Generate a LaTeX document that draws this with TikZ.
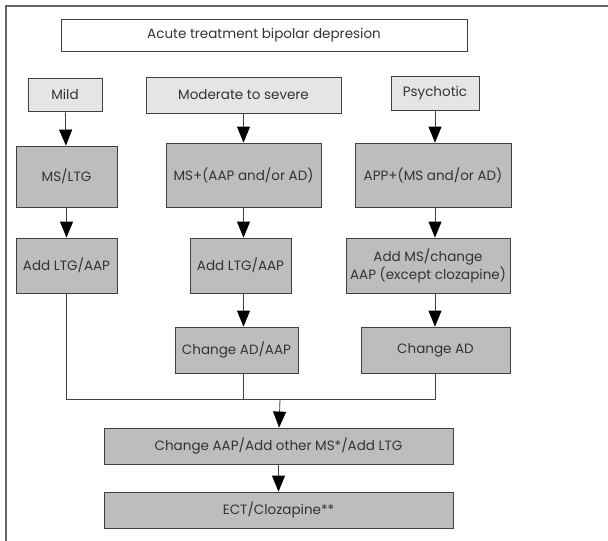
\documentclass[tikz,border=0pt]{standalone}
\usepackage{fontspec}
\setmainfont{Poppins}
\usetikzlibrary{arrows.meta}
\begin{document}
\begin{tikzpicture}
% Flow chart for acute treatment of bipolar depression
\def\unitsz{1pt}
\providecommand{\flowFrameColor}{black!60}
\providecommand{\flowLineColor}{black!75}
\providecommand{\flowLightFill}{black!10}
\providecommand{\flowDarkFill}{black!26}
\providecommand{\flowLineWidth}{0.8pt}
\tikzset{
  flowbox/.style={draw=\flowLineColor, line width=\flowLineWidth, inner sep=0pt,
    align=center, font=\fontsize{13.5}{18}\selectfont, text=black!80},
  levelbox/.style={flowbox, fill=\flowLightFill},
  stepbox/.style={flowbox, fill=\flowDarkFill},
  flowarrow/.style={draw=\flowLineColor, line width=\flowLineWidth,
    -{Triangle[width=13pt,length=16pt,color=black]}},
  flowline/.style={draw=\flowLineColor, line width=\flowLineWidth}
}
\begin{scope}[x=\unitsz, y=-\unitsz, line cap=butt, line join=miter]
  \useasboundingbox (0,0) rectangle (608,541);
  % Outer frame, only top and left edges are visible
  \draw[draw=\flowFrameColor, line width=1.5pt] (6,541) -- (6,6) -- (608,6);
  % Title
  \node[flowbox, fill=white, minimum width=406, minimum height=32] (title) at (264,35) {Acute treatment bipolar depresion};
  % Severity levels
  \node[levelbox, minimum width=74, minimum height=33] (mild) at (65,94.5) {Mild};
  \node[levelbox, minimum width=195, minimum height=36] (moderate) at (243.5,95) {Moderate to severe};
  \node[levelbox, minimum width=88, minimum height=34] (psychotic) at (435,93) {Psychotic};
  % First line
  \node[stepbox, minimum width=101, minimum height=61] (msltg) at (66.5,176.5) {MS/LTG};
  \node[stepbox, minimum width=155, minimum height=64] (msaap) at (243.5,175) {MS+(AAP and/or AD)};
  \node[stepbox, minimum width=156, minimum height=64] (appms) at (433,175) {APP+(MS and/or AD)};
  % Second line
  \node[stepbox, minimum width=101, minimum height=55] (addleft) at (66.5,265.5) {Add LTG/AAP};
  \node[stepbox, minimum width=101, minimum height=55] (addmid) at (240.5,265.5) {Add LTG/AAP};
  \node[stepbox, minimum width=164, minimum height=55] (addms) at (428,265.5) {Add MS/change\\AAP (except clozapine)};
  % Third line
  \node[stepbox, minimum width=123, minimum height=46] (chgmid) at (236.5,350) {Change AD/AAP};
  \node[stepbox, minimum width=149, minimum height=46] (chgad) at (435.5,350) {Change AD};
  % Common steps
  \node[stepbox, minimum width=349, minimum height=36] (chgaap) at (278.5,446) {Change AAP/Add other MS*/Add LTG};
  \node[stepbox, minimum width=349, minimum height=36] (ect) at (278.5,510) {ECT/Clozapine**};
  % Join point of the three columns
  \coordinate (join) at (280,399);
  % Arrows down the columns
  \draw[flowarrow] (mild) -- (msltg);
  \draw[flowarrow] (msltg) -- (addleft);
  \draw[flowarrow] (moderate.south) -- (moderate.south |- msaap.north);
  \draw[flowarrow] (msaap.south) -- (msaap.south |- addmid.north);
  \draw[flowarrow] (msaap.south |- addmid.south) -- (msaap.south |- chgmid.north);
  \draw[flowarrow] (psychotic.south) -- (psychotic.south |- appms.north);
  \draw[flowarrow] (psychotic.south |- appms.south) -- (psychotic.south |- addms.north);
  \draw[flowarrow] (psychotic.south |- addms.south) -- (psychotic.south |- chgad.north);
  % Lines to the join
  \draw[flowline] (addleft.south) |- (psychotic.south |- join) -- (psychotic.south |- chgad.south);
  \draw[flowline] (msaap.south |- chgmid.south) -- (msaap.south |- join);
  \draw[flowarrow] (join) -- (chgaap);
  \draw[flowarrow] (chgaap) -- (ect);
\end{scope}
\end{tikzpicture}
\end{document}
